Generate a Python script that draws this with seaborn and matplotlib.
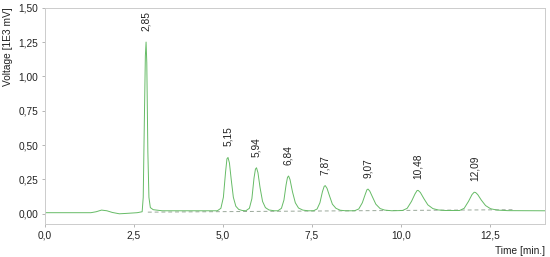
import matplotlib
matplotlib.use("Agg")
import matplotlib.pyplot as plt
from matplotlib.ticker import FuncFormatter
import seaborn as sns
import pandas as pd

sns.set_style("white")
plt.rcParams["font.family"] = ["Liberation Sans", "DejaVu Sans"]

# chromatogram trace (time in min, voltage in 1E3 mV)
time = [0.0, 1.3, 1.45, 1.6, 1.75, 1.9, 2.1, 2.3, 2.6, 2.74,
        2.77, 2.80, 2.83, 2.85, 2.87, 2.90, 2.93, 2.97, 3.05, 3.3, 4.0,
        4.85, 4.95, 5.02, 5.08, 5.12, 5.15, 5.19, 5.24, 5.30, 5.37, 5.45, 5.55,
        5.65, 5.75, 5.82, 5.88, 5.92, 5.95, 5.99, 6.05, 6.12, 6.20, 6.30, 6.45,
        6.55, 6.65, 6.72, 6.78, 6.82, 6.85, 6.89, 6.96, 7.04, 7.13, 7.25, 7.40,
        7.55, 7.65, 7.73, 7.80, 7.85, 7.88, 7.93, 8.00, 8.08, 8.18, 8.30, 8.45,
        8.70, 8.82, 8.92, 9.00, 9.05, 9.08, 9.13, 9.21, 9.30, 9.42, 9.55, 9.75,
        10.05, 10.18, 10.30, 10.40, 10.46, 10.49, 10.55, 10.65, 10.76, 10.90, 11.05, 11.25,
        11.65, 11.78, 11.90, 12.00, 12.06, 12.10, 12.16, 12.26, 12.38, 12.52, 12.70, 13.0, 14.05]
voltage = [0.008, 0.008, 0.015, 0.027, 0.022, 0.010, 0.0, 0.003, 0.008, 0.015,
           0.12, 0.65, 1.15, 1.25, 1.10, 0.45, 0.12, 0.045, 0.03, 0.022, 0.022,
           0.022, 0.04, 0.12, 0.30, 0.40, 0.41, 0.37, 0.25, 0.12, 0.055, 0.032, 0.024,
           0.022, 0.04, 0.11, 0.26, 0.325, 0.335, 0.30, 0.19, 0.09, 0.045, 0.028, 0.022,
           0.022, 0.04, 0.10, 0.21, 0.265, 0.275, 0.25, 0.16, 0.08, 0.042, 0.027, 0.022,
           0.022, 0.035, 0.08, 0.16, 0.20, 0.205, 0.185, 0.13, 0.07, 0.04, 0.026, 0.022,
           0.022, 0.035, 0.08, 0.14, 0.175, 0.18, 0.165, 0.12, 0.07, 0.038, 0.027, 0.022,
           0.024, 0.04, 0.09, 0.145, 0.17, 0.17, 0.155, 0.11, 0.065, 0.038, 0.028, 0.024,
           0.024, 0.04, 0.09, 0.14, 0.157, 0.155, 0.14, 0.10, 0.06, 0.037, 0.027, 0.023, 0.022]

# integration baseline (dashed)
base_time = [2.9, 13.2]
base_volt = [0.012, 0.03]

# labelled peaks
peak_time = [2.85, 5.15, 5.94, 6.84, 7.87, 9.07, 10.48, 12.09]
peak_volt = [1.25, 0.41, 0.335, 0.275, 0.205, 0.18, 0.17, 0.157]
peak_label = ["2,85", "5,15", "5,94", "6,84", "7,87", "9,07", "10,48", "12,09"]

df = pd.DataFrame({"t": time, "v": voltage})
bl = pd.DataFrame({"t": base_time, "v": base_volt})

fig = plt.figure(figsize=(5.5, 2.57), dpi=100)
ax = fig.add_axes([0.081, 0.128, 0.910, 0.842])

sns.lineplot(data=bl, x="t", y="v", ax=ax, color="#9aa89a", lw=0.7,
             linestyle=(0, (4, 3)))
sns.lineplot(data=df, x="t", y="v", ax=ax, sort=False, color="#66bb66",
             lw=0.7, estimator=None)

for t, v, s in zip(peak_time, peak_volt, peak_label):
    ax.annotate(s, (t, v), xytext=(0, 8), textcoords="offset points",
                rotation=90, ha="center", va="bottom", fontsize=7.3,
                color="#222222")

ax.set_xlim(0, 14.05)
ax.set_ylim(-0.075, 1.5)
ax.set_xticks([0, 2.5, 5, 7.5, 10, 12.5])
ax.set_yticks([0, 0.25, 0.5, 0.75, 1.0, 1.25, 1.5])
ax.xaxis.set_major_formatter(FuncFormatter(lambda x, p: f"{x:.1f}".replace(".", ",")))
ax.yaxis.set_major_formatter(FuncFormatter(lambda y, p: f"{y:.2f}".replace(".", ",")))
ax.tick_params(axis="both", labelsize=7.3, labelcolor="#222222", length=2.5,
               width=0.6, color="#aaaaaa", pad=2, left=True, bottom=True)

for sp in ax.spines.values():
    sp.set_color("#cccccc")
    sp.set_linewidth(0.7)

ax.set_xlabel("Time [min.]", fontsize=7.3, color="#222222", loc="right", labelpad=4)
ax.set_ylabel("Voltage [1E3 mV]", fontsize=7.3, color="#222222", loc="top", labelpad=4)

fig.savefig("out.png", dpi=100)
